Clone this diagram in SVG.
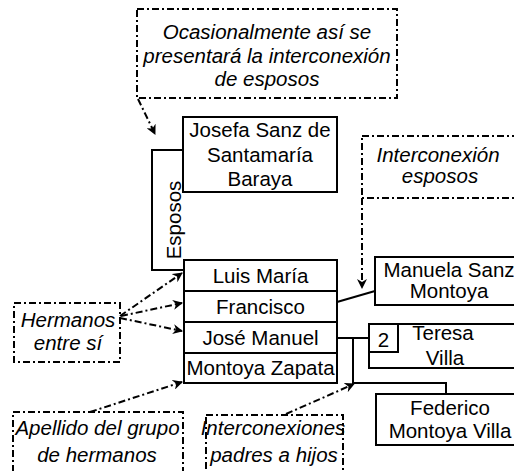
<svg xmlns="http://www.w3.org/2000/svg" width="514" height="471" viewBox="0 0 514 471">
<style>
.box{fill:#fff;stroke:#000;stroke-width:2}
.call{fill:none;stroke:#000;stroke-width:2;stroke-dasharray:7,3,2,3}
.t{font-family:"Liberation Sans",Arial,sans-serif;font-size:20.5px;fill:#000;text-anchor:middle}
.i{font-style:italic}
.ln{fill:none;stroke:#000;stroke-width:2}
.da{fill:none;stroke:#000;stroke-width:2;stroke-dasharray:7,3,2,3;marker-end:url(#ah)}
</style>
<defs>
<marker id="ah" viewBox="0 0 10 10" refX="9" refY="5" markerWidth="10" markerHeight="10" markerUnits="userSpaceOnUse" orient="auto">
<path d="M0,0 L10,5 L0,10 L3,5 z" fill="#000"/>
</marker>
</defs>
<rect width="514" height="471" fill="#fff"/>
<g id="connectors">
<path class="ln" d="M183,150 H152 V270 H184"/>
<path class="ln" d="M337,302 L375,291"/>
<path class="ln" d="M337,338 H369"/>
<path class="ln" d="M353,338 V383 H446 V394"/>
<path class="da" d="M138,99 L155,134"/>
<path class="da" d="M362,198 V288"/>
<path class="da" d="M120,316 L182,273"/>
<path class="da" d="M121,316 L182,303"/>
<path class="da" d="M120,318 L182,331"/>
<path class="da" d="M90,412 L182,382"/>
<path class="da" d="M286,414 L354,384"/>
</g>
<g id="callout-top">
<rect class="call" x="137" y="9" width="260" height="89"/>
<text class="t i" x="267" y="38.5">Ocasionalmente así se</text>
<text class="t i" x="267" y="63">presentará la interconexión</text>
<text class="t i" x="267" y="86">de esposos</text>
</g>
<g id="josefa">
<rect class="box" x="183" y="117" width="154" height="75"/>
<text class="t" x="260" y="137">Josefa Sanz de</text>
<text class="t" x="260" y="162">Santamaría</text>
<text class="t" x="260" y="186">Baraya</text>
</g>
<g id="esposos-label">
<text class="t" transform="translate(181,220) rotate(-90)">Esposos</text>
</g>
<g id="hermanos">
<rect class="box" x="184" y="260" width="153" height="31"/>
<text class="t" x="260.5" y="283">Luis María</text>
<rect class="box" x="184" y="291" width="153" height="31"/>
<text class="t" x="260.5" y="313.5">Francisco</text>
<rect class="box" x="184" y="322" width="153" height="31"/>
<text class="t" x="260.5" y="344.5">José Manuel</text>
<rect class="box" x="184" y="353" width="153" height="30"/>
<text class="t" x="260.5" y="375">Montoya Zapata</text>
</g>
<g id="manuela">
<rect class="box" x="375" y="257" width="150" height="48"/>
<text class="t" x="449" y="277">Manuela Sanz</text>
<text class="t" x="449" y="298">Montoya</text>
</g>
<g id="teresa">
<rect class="box" x="369" y="324" width="155" height="44"/>
<rect class="box" x="369" y="324" width="29" height="28"/>
<text class="t" x="383.5" y="346.5">2</text>
<text class="t" x="443" y="340">Teresa</text>
<text class="t" x="445" y="365">Villa</text>
</g>
<g id="federico">
<rect class="box" x="376" y="394" width="150" height="51"/>
<text class="t" x="450" y="415">Federico</text>
<text class="t" x="450" y="438">Montoya Villa</text>
</g>
<g id="callout-esposos">
<rect class="call" x="362" y="136" width="170" height="62"/>
<text class="t i" x="438" y="161.5">Interconexión</text>
<text class="t i" x="440" y="183">esposos</text>
</g>
<g id="callout-hermanos">
<rect class="call" x="14" y="303" width="106" height="59"/>
<text class="t i" x="68" y="327">Hermanos</text>
<text class="t i" x="68" y="350">entre sí</text>
</g>
<g id="callout-apellido">
<rect class="call" x="13" y="412" width="170" height="70"/>
<text class="t i" x="97.5" y="435">Apellido del grupo</text>
<text class="t i" x="97" y="461.5">de hermanos</text>
</g>
<g id="callout-padres">
<rect class="call" x="206" y="415" width="137" height="70"/>
<text class="t i" x="273" y="435">Interconexiones</text>
<text class="t i" x="274" y="461.5">padres a hijos</text>
</g>
</svg>
